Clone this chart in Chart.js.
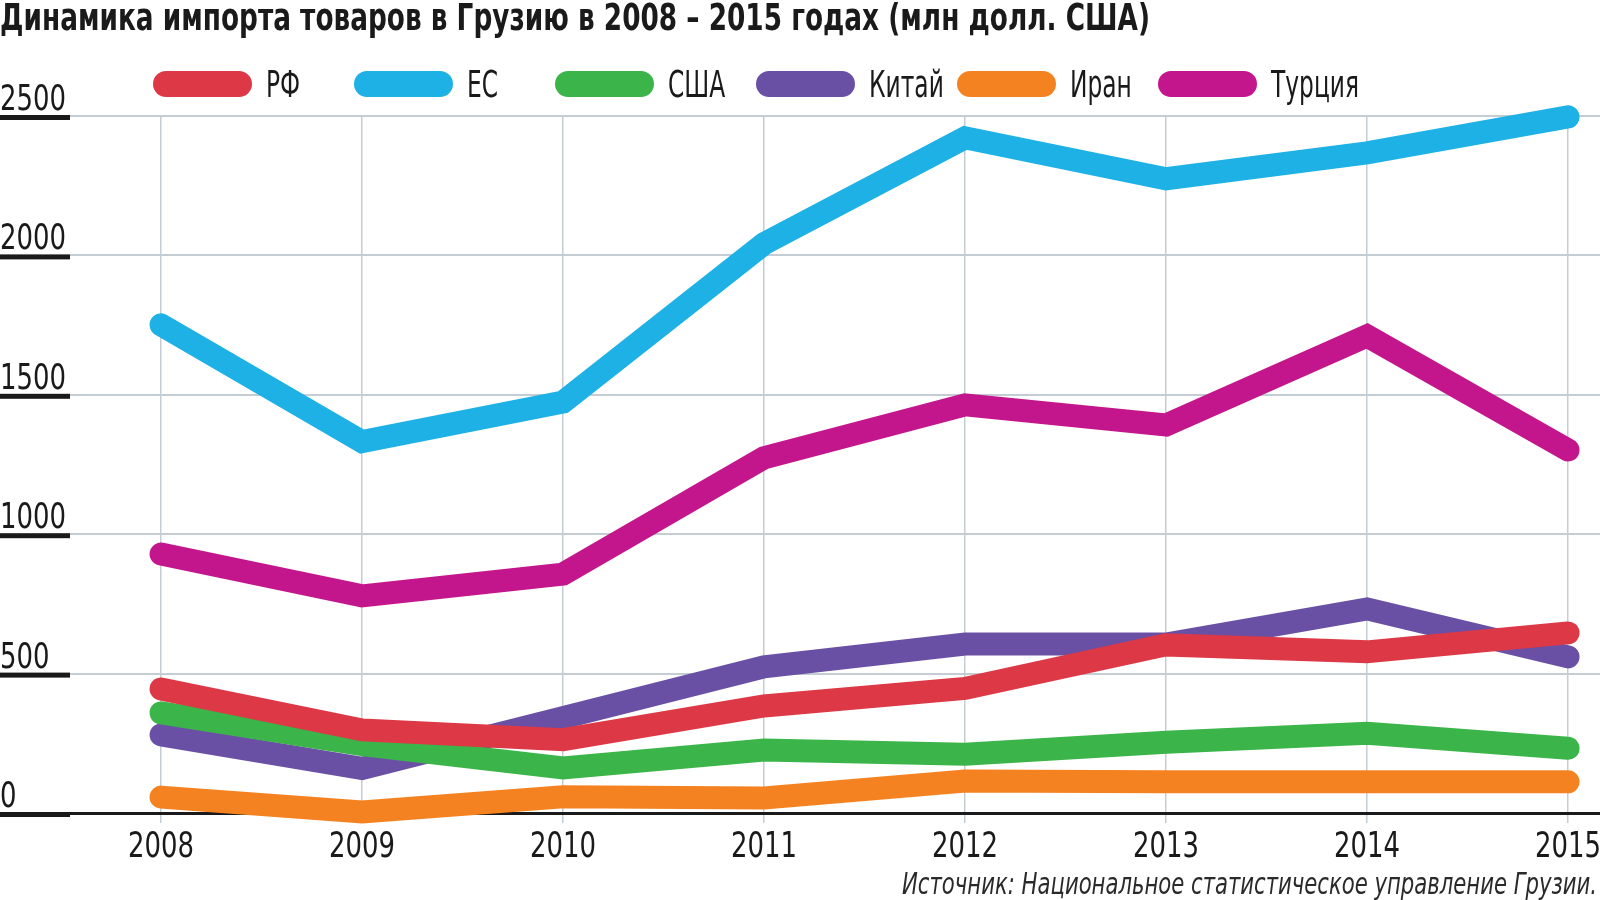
<!DOCTYPE html>
<html lang="ru">
  <head>
    <meta charset="UTF-8" />
    <title>Импорт товаров в Грузию 2008–2015</title>
    <script src="https://cdn.jsdelivr.net/npm/chart.js"></script>
    <style>
      body {
        margin: 0;
        background: #ffffff;
      }
      canvas {
        display: block;
      }
    </style>
  </head>
  <body>
    <canvas id="chart" width="1600" height="900"></canvas>

    <script>
      // данные (млн долл. США)
      const years = [2008, 2009, 2010, 2011, 2012, 2013, 2014, 2015];
      const seriesNames = ["РФ", "ЕС", "США", "Китай", "Иран", "Турция"];
      const rf = [445, 298, 263, 384, 447, 603, 578, 646];
      const eu = [1751, 1332, 1474, 2042, 2422, 2275, 2368, 2497];
      const usa = [359, 245, 162, 226, 211, 254, 286, 232];
      const china = [280, 160, 342, 524, 606, 606, 732, 560];
      const iran = [57, 4, 58, 54, 115, 112, 112, 112];
      const turkey = [929, 779, 857, 1274, 1464, 1392, 1711, 1302];
      const yTicks = [0, 500, 1000, 1500, 2000, 2500];

      const seriesValues = [rf, eu, usa, china, iran, turkey];
      const seriesColors = ["#dc3845", "#1db1e6", "#3bb54a", "#6a50a4", "#f58220", "#c4168c"];

      const FONT = "'Liberation Sans Narrow', 'DejaVu Sans Condensed', 'Arial Narrow', sans-serif";
      const GRID = "#c5cdd4";
      const INK = "#1a1a1a";

      // текст, сжатый по горизонтали в k раз
      function squeezed(ctx, text, x, y, k, align) {
        const w = ctx.measureText(text).width * k;
        let left = x;
        if (align === "right") left = x - w;
        if (align === "center") left = x - w / 2;
        ctx.save();
        ctx.translate(left, y);
        ctx.scale(k, 1);
        ctx.textAlign = "left";
        ctx.fillText(text, 0, 0);
        ctx.restore();
      }

      // текст, подогнанный под заданную ширину
      function fitText(ctx, text, x, y, width, align) {
        const k = width / ctx.measureText(text).width;
        squeezed(ctx, text, x, y, k, align);
      }

      const decorPlugin = {
        id: "decor",
        afterDraw(chart) {
          const ctx = chart.ctx;
          const xScale = chart.scales.x;
          const yScale = chart.scales.y;
          ctx.save();
          ctx.textBaseline = "alphabetic";
          ctx.fillStyle = INK;

          // цифры: общий коэффициент сжатия
          ctx.font = "36px " + FONT;
          const kNum = 66 / ctx.measureText("2500").width;

          // подписи и черные засечки оси Y
          yTicks.forEach((v) => {
            const py = yScale.getPixelForValue(v);
            ctx.fillRect(0, py - 1, 70, 5);
            squeezed(ctx, String(v), 0, py - 6, kNum, "left");
          });

          // подписи оси X
          years.forEach((yr) => {
            const px = xScale.getPixelForValue(yr);
            squeezed(ctx, String(yr), px, 857, kNum, "center");
          });

          // заголовок
          ctx.font = "bold 38px " + FONT;
          fitText(
            ctx,
            "Динамика импорта товаров в Грузию в 2008 – 2015 годах (млн долл. США)",
            0, 30, 1150, "left"
          );

          // легенда
          ctx.font = "38px " + FONT;
          const kLeg = 88 / ctx.measureText("Турция").width;
          chart.data.datasets.forEach((ds, i) => {
            const bx = 153 + i * 201;
            ctx.fillStyle = ds.borderColor;
            ctx.beginPath();
            ctx.roundRect(bx, 71, 99, 26, 13);
            ctx.fill();
            ctx.fillStyle = INK;
            squeezed(ctx, ds.label, bx + 113, 97, kLeg, "left");
          });

          // источник
          ctx.fillStyle = "#2a2a2a";
          ctx.font = "italic 30px " + FONT;
          fitText(
            ctx,
            "Источник: Национальное статистическое управление Грузии.",
            1597, 894, 695, "right"
          );
          ctx.restore();
        },
      };

      new Chart(document.getElementById("chart"), {
        type: "line",
        data: {
          datasets: seriesNames.map((name, i) => ({
            label: name,
            data: years.map((yr, j) => ({ x: yr, y: seriesValues[i][j] })),
            borderColor: seriesColors[i],
            backgroundColor: seriesColors[i],
            borderWidth: 23,
            borderCapStyle: "round",
            borderJoinStyle: "miter",
            pointRadius: 0,
            tension: 0,
            fill: false,
            clip: false,
          })),
        },
        options: {
          responsive: false,
          devicePixelRatio: 1,
          animation: false,
          layout: { padding: { top: 116, left: 70, right: 0, bottom: 0 } },
          plugins: {
            legend: { display: false },
            tooltip: { enabled: false },
          },
          scales: {
            x: {
              type: "linear",
              min: 2007.547,
              max: 2015.159,
              afterBuildTicks: (s) => {
                s.ticks = years.map((v) => ({ value: v }));
              },
              afterFit: (s) => {
                s.height = 87;
              },
              border: { display: false },
              grid: { color: GRID, lineWidth: 1.5, tickLength: 10 },
              ticks: { display: false },
            },
            y: {
              min: 0,
              max: 2500,
              afterBuildTicks: (s) => {
                s.ticks = yTicks.map((v) => ({ value: v }));
              },
              afterFit: (s) => {
                s.width = 0;
              },
              border: { display: false },
              grid: {
                drawTicks: false,
                color: (c) => (c.tick && c.tick.value === 0 ? INK : GRID),
                lineWidth: (c) => (c.tick && c.tick.value === 0 ? 3 : 2),
              },
              ticks: { display: false },
            },
          },
        },
        plugins: [decorPlugin],
      });
    </script>
  </body>
</html>
